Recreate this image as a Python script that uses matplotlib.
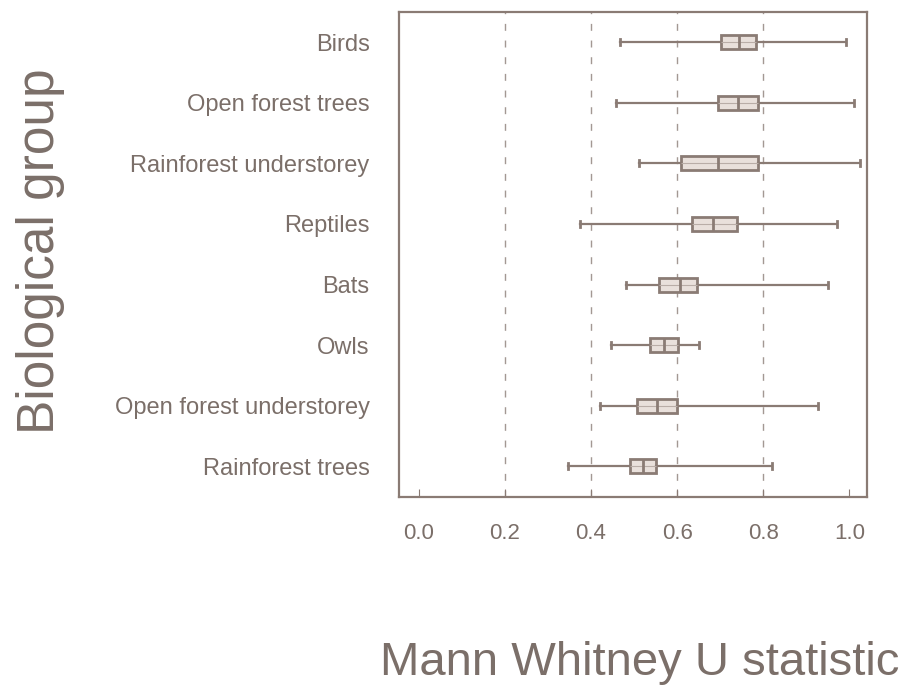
import matplotlib.pyplot as plt

plt.rcParams['font.family'] = ['Liberation Sans', 'DejaVu Sans']

groups = ["Birds", "Open forest trees", "Rainforest understorey", "Reptiles",
          "Bats", "Owls", "Open forest understorey", "Rainforest trees"]
whis_lo = [0.467, 0.459, 0.511, 0.374, 0.482, 0.447, 0.420, 0.346]
q1 = [0.702, 0.696, 0.609, 0.634, 0.557, 0.537, 0.507, 0.490]
median = [0.744, 0.742, 0.696, 0.684, 0.606, 0.570, 0.553, 0.521]
q3 = [0.784, 0.788, 0.787, 0.738, 0.647, 0.601, 0.600, 0.550]
whis_hi = [0.992, 1.010, 1.025, 0.971, 0.950, 0.650, 0.928, 0.821]
x_ticks = [0.0, 0.2, 0.4, 0.6, 0.8, 1.0]
grid_at = [0.2, 0.4, 0.6, 0.8]

TEXT = '#7b6f69'
EDGE = '#8a7b74'

fig = plt.figure(figsize=(9.23, 6.89), dpi=100)
ax = fig.add_axes([0.432, 0.279, 0.507, 0.704])

stats = []
for i in range(len(groups)):
    stats.append(dict(label=groups[i], whislo=whis_lo[i], q1=q1[i], med=median[i],
                      q3=q3[i], whishi=whis_hi[i], fliers=[]))
pos = list(range(1, len(groups) + 1))

for g in grid_at:
    ax.axvline(g, color='#a39893', lw=1.0, ls=(0, (5, 7)), zorder=0)

ax.bxp(stats, positions=pos, orientation='horizontal', widths=0.23,
       capwidths=0.1, patch_artist=True, showfliers=False,
       boxprops=dict(facecolor='#e9e0db', edgecolor=EDGE, lw=2.0),
       medianprops=dict(color=EDGE, lw=2.0, zorder=4),
       whiskerprops=dict(color=EDGE, lw=1.6),
       capprops=dict(color=EDGE, lw=2.0))
ax.hlines(pos, q1, q3, color='#b9ada7', lw=0.8, zorder=3)

ax.set_xlim(-0.046, 1.04)
ax.set_ylim(8.5, 0.5)
ax.set_xticks(x_ticks)
ax.set_xticklabels([f"{t:.1f}" for t in x_ticks])
ax.set_yticks(pos)
ax.set_yticklabels(groups)
ax.tick_params(axis='x', direction='in', length=6, color=EDGE, pad=19,
               labelsize=16, labelcolor=TEXT)
ax.tick_params(axis='y', length=0, pad=21, labelsize=17, labelcolor=TEXT)
for s in ax.spines.values():
    s.set_color(EDGE)
    s.set_linewidth(1.6)

fig.text(0.044, 0.635, "Biological group", rotation=90, ha='center', va='center',
         fontsize=37, color=TEXT)
fig.text(0.693, 0.02, "Mann Whitney U statistic", ha='center', va='baseline',
         fontsize=34, color=TEXT)

fig.savefig("out.png", dpi=100)
